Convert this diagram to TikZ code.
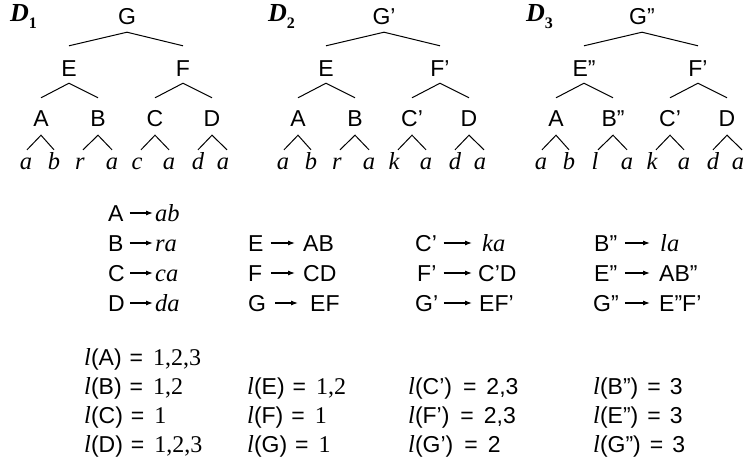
\documentclass[tikz,border=0pt]{standalone}
\usepackage{fontspec}
\setmainfont{Liberation Sans}
\newfontfamily\tms{Liberation Serif}
\usetikzlibrary{arrows.meta}
\newcommand\sit{\fontsize{24.5}{27}\selectfont\tms\itshape}
\newcommand\srm{\fontsize{24}{27}\selectfont\tms}
\newcommand\lv{{\sit l}}
\newcommand\eqa{\hspace{8pt}=\hspace{10pt}}
\newcommand\eqc{\hspace{11pt}=\hspace{10pt}}
\newcommand\eqb{\hspace{9pt}=\hspace{9pt}}
\tikzset{
 sym/.style={inner sep=0pt, text height=16pt, text depth=0pt, font=\fontsize{23}{26}\selectfont},
 leaf/.style={inner sep=0pt, text height=16pt, text depth=0pt, font=\sit},
 edge/.style={line width=1pt},
 prodarrow/.style={line width=1.1pt, -{Latex[length=7pt,width=5pt]}},
 lab/.style={inner sep=0pt, anchor=base west, font=\fontsize{23}{26}\selectfont},
 dlab/.style={inner sep=0pt, anchor=base west, font=\fontsize{26}{28}\selectfont\tms\bfseries\itshape},
}
% tree: #1 prefix, #2 xshift, #3 root, #4 E, #5 F, #6 B, #7 C, #8 leaf3, #9 leaf5
\newcommand\drawtree[9]{%
\begin{scope}[xshift=#2pt]
\node[sym, anchor=base] (#1G) at (127,24) {#3};
\node[sym, anchor=base] (#1E) at (69,76) {#4};
\node[sym, anchor=base] (#1F) at (183,76) {#5};
\node[sym, anchor=base] (#1A) at (41,126) {A};
\node[sym, anchor=base] (#1B) at (98,126) {#6};
\node[sym, anchor=base] (#1C) at (155,126) {#7};
\node[sym, anchor=base] (#1D) at (212,126) {D};
\node[leaf, anchor=base] (#1l1) at (26,169) {a};
\node[leaf, anchor=base] (#1l2) at (54,169) {b};
\node[leaf, anchor=base] (#1l3) at (80,169) {#8};
\node[leaf, anchor=base] (#1l4) at (112,169) {a};
\node[leaf, anchor=base] (#1l5) at (137,169) {#9};
\node[leaf, anchor=base] (#1l6) at (169,169) {a};
\node[leaf, anchor=base] (#1l7) at (198,169) {d};
\node[leaf, anchor=base] (#1l8) at (223,169) {a};
\draw[edge] ([yshift=14pt]#1E.north) -- ([yshift=-8pt]#1G.south) -- ([yshift=14pt]#1F.north);
\draw[edge] ([yshift=12pt]#1A.north) -- ([yshift=-7pt]#1E.south) -- ([yshift=12pt]#1B.north);
\draw[edge] ([yshift=12pt]#1C.north) -- ([yshift=-7pt]#1F.south) -- ([yshift=12pt]#1D.north);
\draw[edge] ([xshift=1pt,yshift=3pt]#1l1.north) -- ([yshift=-9pt]#1A.south) -- ([yshift=3pt]#1l2.north);
\draw[edge] ([xshift=3pt,yshift=3pt]#1l3.north) -- ([yshift=-9pt]#1B.south) -- ([yshift=3pt]#1l4.north);
\draw[edge] ([xshift=4pt,yshift=3pt]#1l5.north) -- ([yshift=-9pt]#1C.south) -- ([yshift=3pt]#1l6.north);
\draw[edge] ([yshift=3pt]#1l7.north) -- ([yshift=-9pt]#1D.south) -- ([xshift=4pt,yshift=3pt]#1l8.north);
\end{scope}}
% rule: #1 id, #2 baseline y, #3 lhs x, #4 lhs, #5 rhs x, #6 rhs, #7 shorten<, #8 shorten>
\newcommand\prule[8]{%
\node[sym, anchor=base west] (#1l) at (#3,#2) {#4};
\node[sym, anchor=base west] (#1r) at (#5,#2) {#6};
\draw[prodarrow, shorten <=#7pt, shorten >=#8pt] (#1l) -- (#1r);}
\begin{document}
\begin{tikzpicture}[x=1pt,y=-1pt]
\useasboundingbox (0,0) rectangle (746,461);
% tree labels
\node[dlab] (d1) at (10,21) {D\raisebox{-7pt}{\fontsize{16}{16}\selectfont\upshape 1}};
\node[dlab] (d2) at (268,21) {D\raisebox{-7pt}{\fontsize{16}{16}\selectfont\upshape 2}};
\node[dlab] (d3) at (526,21) {D\raisebox{-7pt}{\fontsize{16}{16}\selectfont\upshape 3}};
% trees
\drawtree{a}{0}{G}{E}{F}{B}{C}{r}{c}
\drawtree{b}{257}{G’}{E}{F’}{B}{C’}{r}{k}
\drawtree{c}{515}{G”}{E”}{F’}{B”}{C’}{l}{k}
% rules
\prule{rA}{221}{108}{A}{155}{\sit ab}{6}{2}
\prule{rB}{251}{108}{B}{155}{\sit ra}{6}{2}
\prule{rC}{281}{108}{C}{155}{\sit ca}{5}{2}
\prule{rD}{311}{108}{D}{155}{\sit da}{5}{2}
\prule{rE}{251}{248}{E}{303}{AB}{7}{8}
\prule{rF}{281}{248}{F}{303}{CD}{8.5}{8}
\prule{rG}{311}{248}{G}{310}{EF}{9}{12}
\prule{rCp}{251}{415}{C’}{482}{\sit ka}{6.5}{10}
\prule{rFp}{281}{417}{F’}{478}{C’D}{7}{6}
\prule{rGp}{311}{415}{G’}{479}{EF’}{5.5}{7}
\prule{rBpp}{251}{594}{B”}{660}{\sit la}{7.5}{10}
\prule{rEpp}{281}{594}{E”}{659}{AB”}{7.5}{9}
\prule{rGpp}{311}{593}{G”}{659}{E”F’}{6}{9}
% labels
\node[lab] (lA) at (84,365) {\lv(A)\eqa{\srm 1,2,3}};
\node[lab] (lB) at (84,394) {\lv(B)\eqa{\srm 1,2}};
\node[lab] (lC) at (84,423) {\lv(C)\eqa{\srm 1}};
\node[lab] (lD) at (84,452) {\lv(D)\eqa{\srm 1,2,3}};
\node[lab] (lE) at (247,394) {\lv(E)\eqa{\srm 1,2}};
\node[lab] (lF) at (247,423) {\lv(F)\eqa{\srm 1}};
\node[lab] (lG) at (247,452) {\lv(G)\eqa{\srm 1}};
\node[lab] (lCp) at (408,394) {\lv(C’)\eqc2,3};
\node[lab] (lFp) at (408,423) {\lv(F’)\eqc2,3};
\node[lab] (lGp) at (408,452) {\lv(G’)\eqc2};
\node[lab] (lBpp) at (593,394) {\lv(B”)\eqb3};
\node[lab] (lEpp) at (593,423) {\lv(E”)\eqb3};
\node[lab] (lGpp) at (593,452) {\lv(G”)\eqb3};
\end{tikzpicture}
\end{document}
